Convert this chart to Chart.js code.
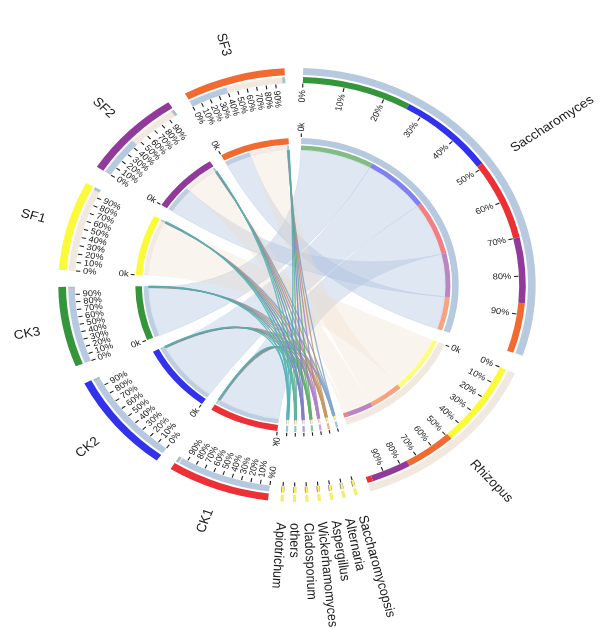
<!DOCTYPE html>
<html><head><meta charset="utf-8">
<script src="https://cdn.jsdelivr.net/npm/chart.js@4.4.0/dist/chart.umd.min.js"></script>
<style>html,body{margin:0;padding:0;background:#fff;}#wrap{width:600px;height:629px;position:relative;}</style>
</head><body><div id="wrap"><canvas id="c" width="600" height="629"></canvas></div>
<script>
// ---------------- data ----------------
const samples = ['CK1', 'CK2', 'CK3', 'SF1', 'SF2', 'SF3'];
const sampleTotals = [25, 27, 21.5, 24, 24.4, 25];
const species = ['Saccharomyces', 'Rhizopus', 'Saccharomycopsis', 'Alternaria', 'Aspergillus',
  'Wickerhamomyces', 'Cladosporium', 'others', 'Apiotrichum'];
const speciesTotals = [107.5, 48, 0.8, 0.8, 0.8, 0.8, 0.8, 0.8, 0.8];
// composition of each taxon by sample (%; order CK1, CK2, CK3, SF1, SF2, SF3)
const saccharomycesBySample = [21, 23, 26, 0, 17, 13];
const rhizopusBySample = [3, 0, 0, 49, 21, 27];
const minorTaxaBySample = [8, 8, 8, 60, 8, 8];
// composition of each sample by taxon (%)
const saccharomycesShare = [96, 97, 97, 0, 45, 40];
const rhizopusShare = [1, 0, 0, 97, 52, 57];
const minorTaxaShare = [3, 3, 3, 3, 3, 3];
const tickLabels = ['0%', '10%', '20%', '30%', '40%', '50%', '60%', '70%', '80%', '90%'];
const innerTickLabel = '0k';

// ---------------- styles / layout ----------------
const sampleColors = ['#EC3035', '#3232EC', '#35953A', '#FAFA38', '#913A9B', '#F26A30'];
const speciesColors = ['#B7C9DE', '#F1E8E0', '#8FB3E0', '#E2A262', '#C68AD6', '#6CC070', '#8F86D8', '#6CC4A4', '#5CC6C6'];
const minorTrackColor = '#F3EE72';
const speciesOrder = [[2, 1, 0, 4, 5, 3], [3, 5, 4, 0, 1, 2], [5, 4, 3, 2, 1, 0]];
const gapAfter = [5, 3.2, 2.2, 2.2, 2.2, 2.2, 2.2, 2.2, 3, 4, 5, 4.5, 5, 4.6];
const CX = 297, CY = 285, SX = 1.1;
const T = 'rgba(0,0,0,0)';

function alpha(hex, a) {
  const n = parseInt(hex.slice(1), 16);
  return `rgba(${n >> 16},${(n >> 8) & 255},${n & 255},${a})`;
}

// sectors clockwise
const sectors = [];
species.forEach((n, i) => sectors.push({kind: 'sp', i, name: n, size: speciesTotals[i]}));
samples.forEach((n, i) => sectors.push({kind: 'sa', i, name: n, size: sampleTotals[i]}));
const sumSizes = sectors.reduce((a, s) => a + s.size, 0);
const sumGaps = gapAfter.reduce((a, b) => a + b, 0);
const gaps = gapAfter.concat([360 - sumSizes - sumGaps]);

function compOf(sec) {
  if (sec.kind === 'sp') {
    const arr = sec.i === 0 ? saccharomycesBySample : sec.i === 1 ? rhizopusBySample : minorTaxaBySample;
    const ord = speciesOrder[Math.min(sec.i, 2)];
    return ord.filter(k => arr[k] > 0).map(k => ({other: k, v: arr[k], color: sampleColors[k], inner: alpha(sampleColors[k], 0.62)}));
  } else {
    const k = sec.i;
    const out = [];
    if (saccharomycesShare[k] > 0) out.push({other: 0, v: saccharomycesShare[k]});
    if (rhizopusShare[k] > 0) out.push({other: 1, v: rhizopusShare[k]});
    for (let s = 2; s < species.length; s++) out.push({other: s, v: minorTaxaShare[k] / 7});
    out.forEach(o => { o.color = speciesColors[o.other]; o.inner = alpha(speciesColors[o.other], 0.9); });
    return out;
  }
}

const A = {data: [], bg: []}, B = {data: [], bg: []}, I1 = {data: [], bg: []}, I2 = {data: [], bg: []};
const secIdxA = [], segIdx = {};
sectors.forEach((sec, j) => {
  secIdxA.push(A.data.length);
  A.data.push(sec.size);
  A.bg.push(sec.kind === 'sa' ? sampleColors[sec.i] : (sec.i < 2 ? speciesColors[sec.i] : minorTrackColor));
  I1.data.push(sec.size);
  I1.bg.push(sec.kind === 'sa' ? sampleColors[sec.i] : (sec.i < 2 ? speciesColors[sec.i] : alpha(speciesColors[sec.i], 0.8)));
  const comp = compOf(sec);
  const tot = comp.reduce((a, c) => a + c.v, 0);
  comp.forEach(c => {
    segIdx[sec.kind + sec.i + '_' + c.other] = I2.data.length;
    B.data.push(sec.size * c.v / tot); B.bg.push(c.color);
    I2.data.push(sec.size * c.v / tot); I2.bg.push(c.inner);
  });
  [A, I1, B, I2].forEach(d => { d.data.push(gaps[j]); d.bg.push(T); });
});

function ds(d, w) { return {data: d.data, backgroundColor: d.bg, borderWidth: 0, weight: w, clip: false}; }
function spacer(w) { return {data: [1], backgroundColor: [T], borderWidth: 0, weight: w, clip: false}; }

function thetaDeg(a) { return ((a * 180 / Math.PI + 90) % 360 + 360) % 360; }
function radialText(ctx, cx, cy, a, r, text, inward) {
  const th = thetaDeg(a);
  const flip = th > 188 && th < 359.5;
  ctx.save();
  ctx.translate(cx + r * Math.cos(a), cy + r * Math.sin(a));
  ctx.rotate(flip ? a + Math.PI : a);
  ctx.textBaseline = 'middle';
  if (inward) ctx.textAlign = flip ? 'left' : 'right';
  else ctx.textAlign = flip ? 'right' : 'left';
  ctx.fillText(text, 0, 0);
  ctx.restore();
}
function tick(ctx, cx, cy, a, r1, r2) {
  ctx.beginPath();
  ctx.moveTo(cx + r1 * Math.cos(a), cy + r1 * Math.sin(a));
  ctx.lineTo(cx + r2 * Math.cos(a), cy + r2 * Math.sin(a));
  ctx.stroke();
}
function ribbon(ctx, cx, cy, r, a1, a2, b1, b2) {
  ctx.beginPath();
  ctx.arc(cx, cy, r, a1, a2);
  ctx.quadraticCurveTo(cx, cy, cx + r * Math.cos(b1), cy + r * Math.sin(b1));
  ctx.arc(cx, cy, r, b1, b2);
  ctx.quadraticCurveTo(cx, cy, cx + r * Math.cos(a1), cy + r * Math.sin(a1));
  ctx.closePath();
}

const stretch = {
  id: 'stretch',
  beforeDraw(chart) { const c = chart.ctx; c.save(); c.translate(CX, CY); c.scale(SX, 1); c.translate(-CX, -CY); },
  afterDraw(chart) { chart.ctx.restore(); }
};

const chords = {
  id: 'chords',
  beforeDatasetsDraw(chart) {
    const ctx = chart.ctx;
    const m = chart.getDatasetMeta(6).data;
    const cx = m[0].x, cy = m[0].y, r = m[0].innerRadius - 0.3;
    const drawFor = (s) => {
      for (let k = 0; k < samples.length; k++) {
        const si = segIdx['sp' + s + '_' + k], ki = segIdx['sa' + k + '_' + s];
        if (si === undefined || ki === undefined) continue;
        const e1 = m[si], e2 = m[ki];
        ribbon(ctx, cx, cy, r, e1.startAngle, e1.endAngle, e2.startAngle, e2.endAngle);
        if (s === 0) { ctx.fillStyle = 'rgba(176,196,222,0.4)'; ctx.fill(); ctx.strokeStyle = 'rgba(150,175,205,0.35)'; ctx.lineWidth = 0.5; ctx.stroke(); }
        else if (s === 1) { ctx.fillStyle = 'rgba(238,218,200,0.3)'; ctx.fill(); }
        else {
          ctx.fillStyle = alpha(speciesColors[s], 0.8); ctx.fill();
          ctx.strokeStyle = alpha(speciesColors[s], 0.75); ctx.lineWidth = 1.1; ctx.stroke();
          ctx.strokeStyle = 'rgba(50,90,100,0.28)'; ctx.lineWidth = 0.35; ctx.stroke();
        }
      }
    };
    ctx.save();
    drawFor(0); drawFor(1);
    for (let s = 2; s < species.length; s++) drawFor(s);
    ctx.restore();
  }
};

const labels = {
  id: 'labels',
  afterDatasetsDraw(chart) {
    const ctx = chart.ctx;
    const m = chart.getDatasetMeta(0).data;
    const cx = m[0].x, cy = m[0].y;
    ctx.save();
    ctx.fillStyle = '#1a1a1a'; ctx.strokeStyle = '#1a1a1a'; ctx.lineWidth = 1;
    sectors.forEach((sec, j) => {
      const e = m[secIdxA[j]];
      const a0 = e.startAngle, a1 = e.endAngle;
      const minor = sec.kind === 'sp' && sec.i >= 2;
      if (minor) {
        const am = (a0 + a1) / 2;
        tick(ctx, cx, cy, am, 197.5, 201.5);
        tick(ctx, cx, cy, am, 148, 151.5);
      } else {
        ctx.font = '8.5px "Liberation Sans", Arial, sans-serif';
        tickLabels.forEach((t, q) => {
          const a = a0 + (a1 - a0) * q / 10;
          tick(ctx, cx, cy, a, 197.5, 201.5);
          radialText(ctx, cx, cy, a, 195, t, true);
        });
        tick(ctx, cx, cy, a0, 148, 151.5);
        radialText(ctx, cx, cy, a0, 153.5, innerTickLabel, false);
      }
      ctx.font = '12.5px "Liberation Sans", Arial, sans-serif';
      radialText(ctx, cx, cy, (a0 + a1) / 2, 238, sec.name, false);
    });
    ctx.restore();
  }
};

new Chart(document.getElementById('c'), {
  type: 'doughnut',
  data: {labels: A.data.map((_, i) => 'seg' + i), datasets: [
    ds(A, 7), spacer(2), ds(B, 6), spacer(55), ds(I1, 6), spacer(1.5), ds(I2, 4.5)
  ]},
  options: {
    responsive: false, animation: false, rotation: 1.5, radius: 217, cutout: (135 / 217 * 100) + '%',
    layout: {padding: {left: 0, right: 6, top: 0, bottom: 59}},
    plugins: {legend: {display: false}, tooltip: {enabled: false}},
    events: []
  },
  plugins: [stretch, chords, labels]
});
</script></body></html>
